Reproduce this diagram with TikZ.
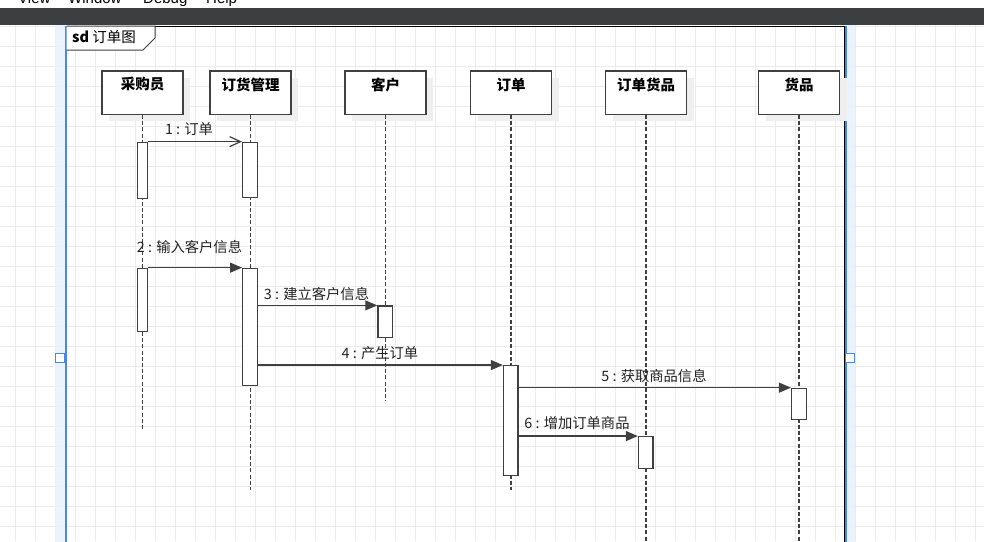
\documentclass[tikz,border=0pt]{standalone}
\usepackage{fontspec}
\setmainfont{Noto Sans CJK SC}
\newfontfamily\menufont{Liberation Sans}
\usetikzlibrary{arrows.meta,shadows}
\definecolor{gridc}{HTML}{EBEBEB}
\definecolor{barc}{HTML}{3B3F42}
\definecolor{selblue}{HTML}{4A86E8}
\definecolor{bandc}{HTML}{E8F1FD}
\definecolor{linec}{HTML}{404040}
\definecolor{shadowc}{HTML}{EFEFEF}
\definecolor{txtc}{HTML}{222222}
\begin{document}
\begin{tikzpicture}[x=1pt,y=-1pt,
  head/.style={draw=linec, line width=1.4pt, fill=white, minimum width=81pt, minimum height=43.3pt, inner sep=0pt,
    general shadow={fill=shadowc, shadow xshift=7pt, shadow yshift=-7pt}},
  htext/.style={font=\bfseries\fontsize{14.5}{16}\selectfont, text=black, inner sep=0pt},
  life/.style={draw=linec, line width=1.5pt, dash pattern=on 4pt off 2.2pt},
  act/.style={draw=linec, line width=1.3pt, fill=white, inner sep=0pt, minimum width=14.6pt},
  msg/.style={draw=linec, line width=1.2pt, -{Triangle[length=12pt,width=10pt]}},
  msgopen/.style={draw=linec, line width=1.2pt, -{Straight Barb[length=11pt,width=10pt]}},
  mlabel/.style={font=\fontsize{14.3}{16}\selectfont, text=txtc, inner sep=0pt},
  menu/.style={font=\menufont\fontsize{15}{18}\selectfont, text=black, inner sep=0pt, anchor=base west},
]
\useasboundingbox (0,0) rectangle (984,541);
\clip (0,0) rectangle (984,541);
\fill[white] (0,0) rectangle (984,541);
% grid
\foreach \x in {15,35,...,975} \draw[gridc, line width=1pt] (\x,25) -- (\x,541);
\foreach \y in {26,46,...,526} \draw[gridc, line width=1pt] (0,\y) -- (984,\y);
% menu bar
\node[menu] (mview) at (18,3) {View};
\node[menu] (mwindow) at (68,3) {Window};
\node[menu] (mdebug) at (143,3) {Debug};
\node[menu] (mhelp) at (206,3) {Help};
\fill[barc] (0,8) rectangle (984,25.3);
% frame with selection
\fill[bandc, opacity=0.85] (55,25.3) rectangle (65,545);
\fill[bandc, opacity=0.85] (845,25.3) rectangle (855,545);
\draw[black, line width=1pt] (65,26) -- (844,26);
\draw[black, line width=1pt] (844,26) -- (844,545);
\draw[selblue, line width=2pt] (65.5,26) -- (65.5,545);
\draw[selblue, line width=2pt] (846,26) -- (846,545);
\draw[selblue, line width=1.2pt, fill=white] (55.5,353.2) rectangle (64.5,362.8);
\draw[selblue, line width=1.2pt, fill=white] (845.5,353.2) rectangle (854.5,362.8);
% sd label
\draw[linec, line width=1pt, fill=white] (66.5,26) -- (155,26) -- (155,38) -- (143,50) -- (66.5,50);
\node[anchor=west, inner sep=0pt, font=\fontsize{14.5}{16}\selectfont, text=black] (sdlabel) at (72,36.8) {\textbf{sd} 订单图};
% heads
\node[head] (h1) at (142.5,92.6) {};
\node[head] (h2) at (250.5,92.6) {};
\node[head] (h3) at (385.5,92.6) {};
\node[head] (h4) at (511,92.6) {};
\node[head] (h5) at (646,92.6) {};
\node[head] (h6) at (799,92.6) {};
\node[htext] (t1) at (142.5,84.5) {采购员};
\node[htext] (t2) at (250.5,84.5) {订货管理};
\node[htext] (t3) at (385.5,84.5) {客户};
\node[htext] (t4) at (511,84.5) {订单};
\node[htext] (t5) at (646,84.5) {订单货品};
\node[htext] (t6) at (799,84.5) {货品};
% lifelines
\coordinate (e1) at (142.5,430);
\coordinate (e2) at (250.5,490);
\coordinate (e3) at (385.5,401);
\coordinate (e4) at (511,490);
\coordinate (e5) at (646,545);
\coordinate (e6) at (799,545);
\draw[life] (h1.south) -- (e1);
\draw[life] (h2.south) -- (e2);
\draw[life] (h3.south) -- (e3);
\draw[life] (h4.south) -- (e4);
\draw[life] (h5.south) -- (e5);
\draw[life] (h6.south) -- (e6);
% activations
\node[act, minimum width=9.6pt, minimum height=56pt] (a1) at (142.5,170.3) {};
\node[act, minimum height=55pt] (b1) at (250,169.8) {};
\node[act, minimum width=9.6pt, minimum height=63.4pt] (a2) at (142.5,300) {};
\node[act, minimum height=117.4pt] (b2) at (250,327) {};
\node[act, minimum height=31.3pt] (c1) at (385.2,321.7) {};
\node[act, minimum height=110pt] (d1) at (510.8,420.7) {};
\node[act, minimum height=31pt] (f1) at (798.9,403.8) {};
\node[act, minimum height=31.6pt] (g1) at (645.8,452.5) {};
% messages
\draw[msgopen] (a1.north east) -- (b1.north west);
\draw[msg] (a2.north east) -- (b2.north west);
\draw[msg] (b2.east |- c1.north) -- (c1.north west);
\draw[msg] (b2.east |- d1.north) -- (d1.north west);
\draw[msg] (d1.east |- f1.north) -- (f1.north west);
\draw[msg] (d1.east |- g1.north) -- (g1.north west);
% labels
\node[mlabel] (l1) at (189,129) {1 : 订单};
\node[mlabel] (l2) at (189.5,247) {2 : 输入客户信息};
\node[mlabel] (l3) at (316.5,294) {3 : 建立客户信息};
\node[mlabel] (l4) at (380,353.5) {4 : 产生订单};
\node[mlabel] (l5) at (654,376) {5 : 获取商品信息};
\node[mlabel] (l6) at (577,423.5) {6 : 增加订单商品};
\end{tikzpicture}
\end{document}
